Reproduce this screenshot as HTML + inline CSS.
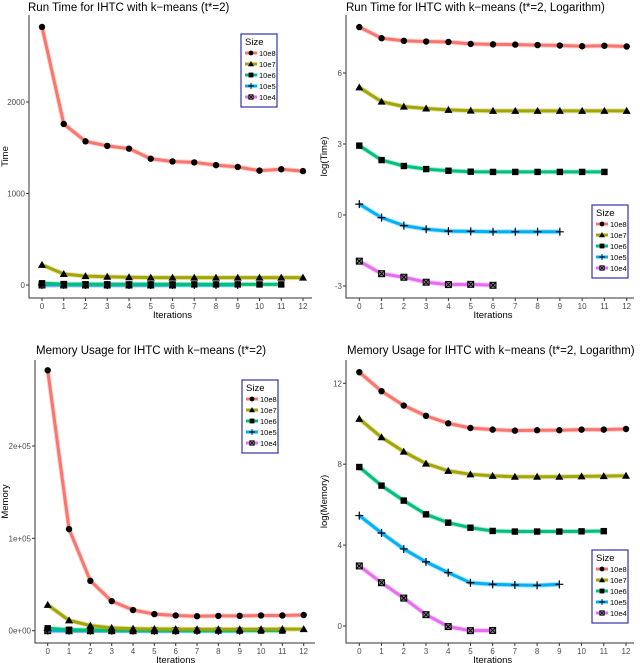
<!DOCTYPE html>
<html><head><meta charset="utf-8">
<style>
html,body{margin:0;padding:0;background:#fff;}
svg{display:block;font-family:"Liberation Sans",sans-serif;}
</style></head>
<body>
<svg id="chart" width="640" height="663" viewBox="0 0 640 663"></svg>
<script>
const iterations = [0,1,2,3,4,5,6,7,8,9,10,11,12];
const sizes = ["10e8","10e7","10e6","10e5","10e4"];
// Run time (raw)
const time10e8 = [2820,1760,1570,1520,1490,1380,1350,1340,1310,1290,1250,1265,1245];
const time10e7 = [220,120,97,90,85,81,81,81,81,81,81,81,81];
const time10e6 = [18.7,10.2,7.9,7,6.5,6.2,6.2,6.2,6.2,6.2,6.2,6.2];
const time10e5 = [1.6,0.9,0.64,0.55,0.5,0.5,0.49,0.49,0.49,0.49];
const time10e4 = [0.14,0.084,0.072,0.058,0.053,0.054,0.051];
// Run time (log)
const logTime10e8 = [7.94,7.47,7.36,7.33,7.31,7.23,7.21,7.2,7.18,7.16,7.13,7.15,7.12];
const logTime10e7 = [5.39,4.79,4.58,4.5,4.44,4.41,4.4,4.4,4.4,4.4,4.4,4.4,4.4];
const logTime10e6 = [2.93,2.32,2.07,1.94,1.87,1.83,1.82,1.82,1.82,1.82,1.82,1.82];
const logTime10e5 = [0.46,-0.11,-0.45,-0.6,-0.68,-0.69,-0.71,-0.71,-0.71,-0.71];
const logTime10e4 = [-1.95,-2.48,-2.63,-2.84,-2.94,-2.93,-2.97];
// Memory (raw)
const mem10e8 = [282000,110000,54000,32000,22400,18000,16500,15700,16000,16100,16500,16500,17000];
const mem10e7 = [28000,11200,5500,3100,2140,1800,1670,1600,1600,1600,1630,1650,1690];
const mem10e6 = [2600,1030,490,250,166,129,110,107,107,107,108,109];
const mem10e5 = [235,100,45,24,14,8.5,7.8,7.6,7.5,7.8];
const mem10e4 = [19.5,8.5,4,1.75,0.97,0.8,0.8];
// Memory (log)
const logMem10e8 = [12.55,11.61,10.9,10.39,10.02,9.79,9.71,9.66,9.68,9.68,9.71,9.71,9.74];
const logMem10e7 = [10.24,9.33,8.62,8.03,7.67,7.5,7.42,7.38,7.38,7.38,7.4,7.41,7.43];
const logMem10e6 = [7.86,6.94,6.2,5.52,5.11,4.86,4.7,4.67,4.67,4.67,4.68,4.69];
const logMem10e5 = [5.46,4.6,3.81,3.17,2.64,2.14,2.06,2.03,2.01,2.06];
const logMem10e4 = [2.97,2.14,1.38,0.56,-0.03,-0.23,-0.22];

const timeTicks = [0,1000,2000];
const timeTickLabels = ["0","1000","2000"];
const logTimeTicks = [-3,0,3,6];
const logTimeTickLabels = ["-3","0","3","6"];
const memTicks = [0,100000,200000];
const memTickLabels = ["0e+00","1e+05","2e+05"];
const logMemTicks = [0,4,8,12];
const logMemTickLabels = ["0","4","8","12"];

const colors = ["#F8766D","#A3A500","#00BF7D","#00B0F6","#E76BF3"];
const NS = "http://www.w3.org/2000/svg";
const svg = document.getElementById("chart");
function mk(tag, attrs, parent){
  const e = document.createElementNS(NS, tag);
  for (const k in attrs) e.setAttribute(k, attrs[k]);
  (parent||svg).appendChild(e);
  return e;
}
function marker(g, kind, x, y){
  let m;
  if (kind===0){ m = mk("circle",{cx:x,cy:y,r:3.2,fill:"#000"},g); }
  else if (kind===1){ m = mk("polygon",{points:`${x},${y-4} ${x-4},${y+3} ${x+4},${y+3}`,fill:"#000"},g); }
  else if (kind===2){ m = mk("rect",{x:x-3.2,y:y-3.2,width:6.4,height:6.4,fill:"#000"},g); }
  else if (kind===3){ m = mk("path",{d:`M${x-4},${y}H${x+4}M${x},${y-4}V${y+4}`,stroke:"#000","stroke-width":1.2,fill:"none"},g); }
  else { m = mk("g",{},g);
    mk("rect",{x:x-3,y:y-3,width:6,height:6,fill:"#888",stroke:"#000","stroke-width":1},m);
    mk("path",{d:`M${x-3},${y-3}L${x+3},${y+3}M${x+3},${y-3}L${x-3},${y+3}`,stroke:"#000","stroke-width":1},m);
  }
  return m;
}
function panel(p){
  const g = mk("g",{});
  
  
  const xs = i => p.x0 + (p.x12 - p.x0) * i / 12;
  const ys = v => p.yA + (v - p.vA) * (p.yB - p.yA) / (p.vB - p.vA);
  const t = mk("text",{x:p.tx,y:p.ty,"font-size":11.5,fill:"#000"},g);
  t.textContent = p.title;
  
  
  // axes
  const ax = mk("path",{d:`M${p.ax},${p.top}V${p.bottom}H${p.right}`,stroke:"#333","stroke-width":1,fill:"none"},g);
  
  
  iterations.forEach(i=>{
    const x = xs(i);
    mk("line",{x1:x,x2:x,y1:p.bottom,y2:p.bottom+3,stroke:"#333"},g);
    const l = mk("text",{x:x,y:p.bottom+11,"font-size":8,fill:"#4d4d4d","text-anchor":"middle"},g);
    l.textContent = i;
    
    
  });
  p.ticks.forEach((v,k)=>{
    const y = ys(v);
    mk("line",{x1:p.ax-3,x2:p.ax,y1:y,y2:y,stroke:"#333"},g);
    const l = mk("text",{x:p.ax-4,y:y+3,"font-size":8,fill:"#4d4d4d","text-anchor":"end"},g);
    l.textContent = p.labels[k];
    
    
  });
  const xl = mk("text",{x:(p.x0+p.x12)/2,y:p.bottom+20,"font-size":9.5,fill:"#000","text-anchor":"middle"},g);
  xl.textContent = "Iterations";
  
  
  const yl = mk("text",{x:0,y:0,"font-size":9.5,fill:"#000","text-anchor":"middle",transform:`translate(${p.ylx},${(p.top+p.bottom)/2}) rotate(-90)`},g);
  yl.textContent = p.ytitle;
  
  
  // series (draw last series first so top ones are on top)
  for (let s = p.series.length-1; s >= 0; s--){
    const vals = p.series[s];
    const pts = vals.map((v,i)=>`${xs(i)},${ys(v)}`).join(" ");
    const sg = mk("g",{},g);
    
    
    mk("polyline",{points:pts,fill:"none",stroke:colors[s],"stroke-width":5,"stroke-opacity":0.3,"stroke-linejoin":"round"},sg);
    const ln = mk("polyline",{points:pts,fill:"none",stroke:colors[s],"stroke-width":3,"stroke-linejoin":"round"},sg);
    
    
    vals.forEach((v,i)=>{
      const m = marker(sg, s, xs(i), ys(v));
      
      
    });
  }
  // legend
  const lg = mk("g",{},g);
  
  
  mk("rect",{x:p.lx,y:p.ly,width:36,height:73,fill:"#fff",stroke:"#3333aa","stroke-width":1.2},lg);
  const lt = mk("text",{x:p.lx+4,y:p.ly+11,"font-size":9.5,fill:"#000"},lg);
  lt.textContent = "Size";
  sizes.forEach((nm,s)=>{
    const y = p.ly + 19 + s*11;
    const e = mk("g",{},lg);
    
    
    mk("line",{x1:p.lx+4,x2:p.lx+16,y1:y,y2:y,stroke:colors[s],"stroke-width":3},e);
    const mm = marker(e, s, p.lx+10, y);
    mm.setAttribute('transform',`translate(${p.lx+10},${y}) scale(0.75) translate(${-(p.lx+10)},${-y})`);
    const tx = mk("text",{x:p.lx+18,y:y+3,"font-size":7.5,fill:"#000"},e);
    tx.textContent = nm;
  });
}
panel({name:"run-time-panel",title:"Run Time for IHTC with k\u2212means (t*=2)",tx:28,ty:11,
  ax:29,top:15,bottom:298,right:312,x0:42,x12:303,yA:285,vA:0,yB:102,vB:2000,
  ticks:timeTicks,labels:timeTickLabels,ytitle:"Time",ylx:8,lx:241,ly:34,
  series:[time10e8,time10e7,time10e6,time10e5,time10e4]});
panel({name:"log-run-time-panel",title:"Run Time for IHTC with k\u2212means (t*=2, Logarithm)",tx:346,ty:11,
  ax:346,top:15,bottom:298,right:634,x0:359.3,x12:626.7,yA:215,vA:0,yB:73,vB:6,
  ticks:logTimeTicks,labels:logTimeTickLabels,ytitle:"log(Time)",ylx:327,lx:592,ly:205,
  series:[logTime10e8,logTime10e7,logTime10e6,logTime10e5,logTime10e4]});
panel({name:"memory-panel",title:"Memory Usage for IHTC with k\u2212means (t*=2)",tx:36,ty:354,
  ax:35,top:360,bottom:643,right:315,x0:47.7,x12:303.7,yA:630.7,vA:0,yB:446,vB:200000,
  ticks:memTicks,labels:memTickLabels,ytitle:"Memory",ylx:8,lx:242,ly:380,
  series:[mem10e8,mem10e7,mem10e6,mem10e5,mem10e4]});
panel({name:"log-memory-panel",title:"Memory Usage for IHTC with k\u2212means (t*=2, Logarithm)",tx:347,ty:354,
  ax:346,top:360,bottom:643,right:634,x0:359.3,x12:626,yA:626,vA:0,yB:383.3,vB:12,
  ticks:logMemTicks,labels:logMemTickLabels,ytitle:"log(Memory)",ylx:327,lx:592,ly:550,
  series:[logMem10e8,logMem10e7,logMem10e6,logMem10e5,logMem10e4]});
</script>
</body></html>
